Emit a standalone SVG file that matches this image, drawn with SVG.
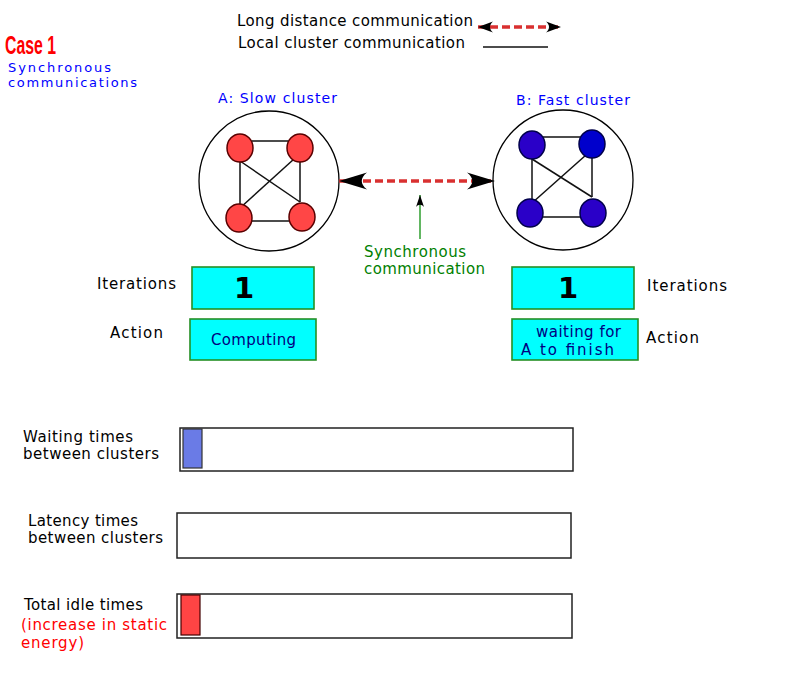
<svg xmlns="http://www.w3.org/2000/svg" width="800" height="698" viewBox="0 0 800 698">
<style>
text{font-family:"DejaVu Sans","Liberation Sans",sans-serif;font-size:15px;fill:#000}
.blue{fill:#0000ff}
.ttl{font-size:14px}
.small{font-size:13px}
.green{fill:#008000}
.red{fill:#ff0000}
.navy{fill:#000080}
.big{font-weight:bold;font-size:29px}
.cl{fill:#fff;stroke:#000;stroke-width:1.3}
.na{fill:#ff4646;stroke:#5a0000;stroke-width:1.5}
.nb{fill:#2a00c8;stroke:#00004a;stroke-width:1.5}
.edge{stroke:#111;stroke-width:1.5;fill:none}
.box{fill:#00ffff;stroke:#259025;stroke-width:1.6}
.bar{fill:#fff;stroke:#222;stroke-width:1.5}
.dash{stroke:#d93030;stroke-width:3.5;stroke-dasharray:8,4;fill:none}
</style>
<defs>
<marker id="arrL" viewBox="-30 -10 32 20" markerWidth="32" markerHeight="20" refX="0" refY="0" orient="auto-start-reverse" markerUnits="userSpaceOnUse">
<path d="M0,0 L-28,-8.5 C-21,-3 -21,3 -28,8.5 Z" fill="#000"/>
</marker>
<marker id="arrS" viewBox="-17 -7 18 14" markerWidth="18" markerHeight="14" refX="0" refY="0" orient="auto-start-reverse" markerUnits="userSpaceOnUse">
<path d="M0,0 L-15,-5.5 C-11,-2 -11,2 -15,5.5 Z" fill="#000"/>
</marker>
<marker id="arrG" viewBox="-13 -5 14 10" markerWidth="14" markerHeight="10" refX="0" refY="0" orient="auto" markerUnits="userSpaceOnUse">
<path d="M0,0 L-12,-4 C-9,-1.5 -9,1.5 -12,4 Z" fill="#000"/>
</marker>
</defs>
<rect width="800" height="698" fill="#fff"/>

<g id="title">
<text x="5" y="53.5" class="red" style="font-family:'Liberation Sans',sans-serif;font-weight:bold;font-size:26px" textLength="51" lengthAdjust="spacingAndGlyphs">Case 1</text>
<text x="8" y="72" class="blue small" textLength="103">Synchronous</text>
<text x="8" y="87" class="blue small" textLength="129">communications</text>
</g>

<g id="legend">
<text x="237" y="26" textLength="236">Long distance communication</text>
<text x="238" y="48" textLength="227">Local cluster communication</text>
<line x1="478" y1="27" x2="561" y2="27" class="dash" stroke-width="3" marker-start="url(#arrS)" marker-end="url(#arrS)"/>
<line x1="483" y1="47" x2="548" y2="47" stroke="#111" stroke-width="1.5"/>
</g>

<g id="clusterA">
<text x="218" y="103" class="blue ttl" textLength="119">A: Slow cluster</text>
<circle cx="269" cy="181" r="70" class="cl"/>
<g class="edge">
<line x1="252" y1="141" x2="288" y2="141"/>
<line x1="240" y1="161" x2="240" y2="208"/>
<line x1="300" y1="161" x2="300" y2="202"/>
<line x1="248" y1="221" x2="289" y2="221"/>
<line x1="240" y1="161" x2="300" y2="202"/>
<line x1="294" y1="159" x2="240" y2="208"/>
</g>
<ellipse cx="240" cy="148" rx="13" ry="14" class="na"/>
<ellipse cx="300" cy="148" rx="13" ry="14" class="na"/>
<ellipse cx="239" cy="218" rx="13" ry="14" class="na"/>
<ellipse cx="302" cy="217" rx="13" ry="14" class="na"/>
</g>

<g id="clusterB">
<text x="516" y="105" class="blue ttl" textLength="114">B: Fast cluster</text>
<circle cx="563" cy="180" r="70" class="cl"/>
<g class="edge">
<line x1="543" y1="137" x2="580" y2="137"/>
<line x1="532" y1="159" x2="532" y2="203"/>
<line x1="592" y1="158" x2="592" y2="197"/>
<line x1="541" y1="217" x2="580" y2="217"/>
<line x1="532" y1="159" x2="592" y2="197"/>
<line x1="586" y1="155" x2="532" y2="203"/>
</g>
<ellipse cx="532" cy="145" rx="13" ry="14" class="nb"/>
<ellipse cx="592" cy="144" rx="13" ry="14" class="nb" style="fill:#0000cc"/>
<ellipse cx="530" cy="213" rx="13" ry="14" class="nb"/>
<ellipse cx="593" cy="213" rx="13" ry="14" class="nb"/>
</g>

<g id="connectors">
<line x1="339" y1="181" x2="495" y2="181" class="dash" marker-start="url(#arrL)" marker-end="url(#arrL)"/>
<line x1="420" y1="239" x2="420" y2="195" stroke="#2e9e2e" stroke-width="1.5" marker-end="url(#arrG)"/>
</g>

<g id="syncLabel">
<text x="364" y="257" class="green" textLength="102">Synchronous</text>
<text x="364" y="274" class="green" textLength="121">communication</text>
</g>

<g id="iterA">
<text x="97" y="289" textLength="79">Iterations</text>
<rect x="192" y="267" width="122" height="42" class="box"/>
<text x="244" y="298" class="big" text-anchor="middle">1</text>
</g>
<g id="actionA">
<text x="110" y="338" textLength="53">Action</text>
<rect x="190" y="319" width="126" height="41" class="box"/>
<text x="211" y="345" class="navy" textLength="85">Computing</text>
</g>

<g id="iterB">
<rect x="512" y="267" width="122" height="42" class="box"/>
<text x="568" y="298" class="big" text-anchor="middle">1</text>
<text x="647" y="291" textLength="80">Iterations</text>
</g>
<g id="actionB">
<rect x="512" y="319" width="126" height="41" class="box"/>
<text x="536" y="337" class="navy" textLength="85">waiting for</text>
<text x="521" y="355" class="navy" textLength="93">A to finish</text>
<text x="646" y="343" textLength="53">Action</text>
</g>

<g id="waitingBar">
<text x="23" y="442" textLength="110">Waiting times</text>
<text x="23" y="459" textLength="136">between clusters</text>
<rect x="180" y="428" width="393" height="43" class="bar"/>
<rect x="183" y="429" width="19" height="39" fill="#6a7be6" stroke="#333" stroke-width="1.2"/>
</g>

<g id="latencyBar">
<text x="28" y="526" textLength="110">Latency times</text>
<text x="28" y="543" textLength="135">between clusters</text>
<rect x="177" y="513" width="394" height="45" class="bar"/>
</g>

<g id="idleBar">
<text x="24" y="610" textLength="119">Total idle times</text>
<text x="21" y="630" class="red" textLength="146">(increase in static</text>
<text x="21" y="648" class="red" textLength="63">energy)</text>
<rect x="177" y="594" width="395" height="44" class="bar"/>
<rect x="181" y="595" width="19" height="40" fill="#ff4444" stroke="#400" stroke-width="1.2"/>
</g>
</svg>
